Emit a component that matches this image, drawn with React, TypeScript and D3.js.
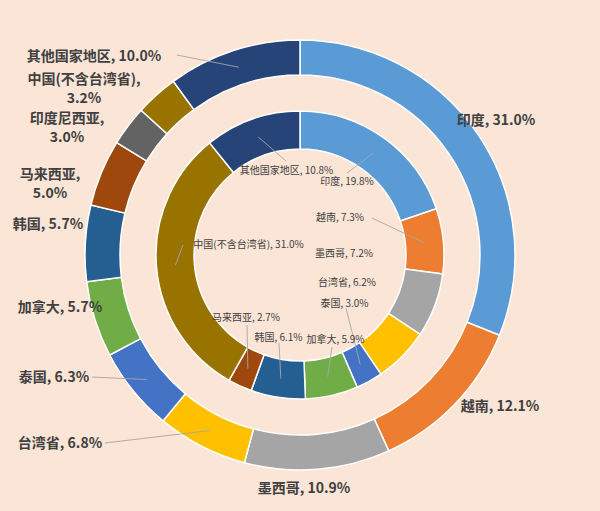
import React from 'react';
import * as d3 from 'd3';

// ---- data ----
const categories = ['印度', '越南', '墨西哥', '台湾省', '泰国', '加拿大', '韩国', '马来西亚', '印度尼西亚', '中国(不含台湾省)', '其他国家地区'];
const outerValues = [31.0, 12.1, 10.9, 6.8, 6.3, 5.7, 5.7, 5.0, 3.0, 3.2, 10.0];
const innerValues = [19.8, 7.3, 7.2, 6.2, 3.0, 5.9, 6.1, 2.7, 0, 31.0, 10.8];
const colors = ['#5B9BD5', '#ED7D31', '#A5A5A5', '#FFC000', '#4472C4', '#70AD47', '#255E91', '#9E480E', '#636363', '#997300', '#264478'];

// ---- layout (label placement relative to chart centre) ----
const W = 600, H = 511;
const CX = 300, CY = 255;
const OUTER_R = [180, 215];
const INNER_R = [106, 144];

type Lay = { dx: number; dy: number; split?: boolean; lead?: [number, number] } | null;
const outerLayout: Lay[] = [
  { dx: 196, dy: -135 },
  { dx: 200, dy: 151 },
  { dx: 4, dy: 233 },
  { dx: -240, dy: 188, lead: [-195, 188] },
  { dx: -246, dy: 122, lead: [-208, 122] },
  { dx: -240, dy: 52 },
  { dx: -252, dy: -31 },
  { dx: -250, dy: -71, split: true },
  { dx: -233, dy: -127.5, split: true },
  { dx: -216, dy: -166, split: true },
  { dx: -206, dy: -199, lead: [-123, -200] },
];
const innerLayout: Lay[] = [
  { dx: 47, dy: -74, lead: [47, -82] },
  { dx: 40, dy: -38, lead: [72, -37] },
  { dx: 44, dy: -2 },
  { dx: 47, dy: 27 },
  { dx: 44.5, dy: 48, lead: [46, 53] },
  { dx: 35.5, dy: 84, lead: [32, 92] },
  { dx: -21.5, dy: 82, lead: [-21, 88] },
  { dx: -54, dy: 62, lead: [-53, 70] },
  null,
  { dx: -51.5, dy: -11, lead: [-117, -10] },
  { dx: -13.5, dy: -85, lead: [-14, -94] },
];

const FONT = '"Noto Sans CJK SC", "Noto Sans", sans-serif';
const TEXT_COLOR = '#404040';
const LEADER = '#A6A6A6';
const LINE_GAP = 19;

function Ring({ values, radii, layout, fontSize, bold }: { values: number[]; radii: number[]; layout: Lay[]; fontSize: number; bold: boolean }) {
  const pie = d3.pie<number>().sort(null).value((d) => d).startAngle(0).endAngle(2 * Math.PI);
  const arcs = pie(values);
  const arc = d3.arc<d3.PieArcDatum<number>>().innerRadius(radii[0]).outerRadius(radii[1]);
  const weight = bold ? 'bold' : 'normal';
  return (
    <g>
      {arcs.map((a, i) =>
        a.value > 0 ? (
          <path key={'p' + i} d={arc(a) || ''} fill={colors[i]} stroke="#FFFFFF" strokeWidth={1.5} strokeLinejoin="round" />
        ) : null
      )}
      {arcs.map((a, i) => {
        const lay = layout[i];
        if (!lay || a.value <= 0) return null;
        const c = arc.centroid(a);
        const label = `${categories[i]}, ${a.value.toFixed(1)}%`;
        return (
          <g key={'l' + i}>
            {lay.lead ? <line x1={lay.lead[0]} y1={lay.lead[1]} x2={c[0]} y2={c[1]} stroke={LEADER} strokeWidth={0.9} /> : null}
            {lay.split ? (
              <g>
                <text x={lay.dx} y={lay.dy - LINE_GAP / 2} dy="0.35em" textAnchor="middle" fontFamily={FONT} fontSize={fontSize} fontWeight={weight} fill={TEXT_COLOR}>
                  {`${categories[i]},`}
                </text>
                <text x={lay.dx} y={lay.dy + LINE_GAP / 2} dy="0.35em" textAnchor="middle" fontFamily={FONT} fontSize={fontSize} fontWeight={weight} fill={TEXT_COLOR}>
                  {`${a.value.toFixed(1)}%`}
                </text>
              </g>
            ) : (
              <text x={lay.dx} y={lay.dy} dy="0.35em" textAnchor="middle" fontFamily={FONT} fontSize={fontSize} fontWeight={weight} fill={TEXT_COLOR}>
                {label}
              </text>
            )}
          </g>
        );
      })}
    </g>
  );
}

export default function App() {
  return (
    <svg width={W} height={H} style={{ position: 'absolute', left: 0, top: 0, display: 'block' }}>
      <rect x={0} y={0} width={W} height={H} fill="#FBE5D6" />
      <g transform={`translate(${CX},${CY})`}>
        <Ring values={outerValues} radii={OUTER_R} layout={outerLayout} fontSize={14} bold={true} />
        <Ring values={innerValues} radii={INNER_R} layout={innerLayout} fontSize={10} bold={false} />
      </g>
    </svg>
  );
}
